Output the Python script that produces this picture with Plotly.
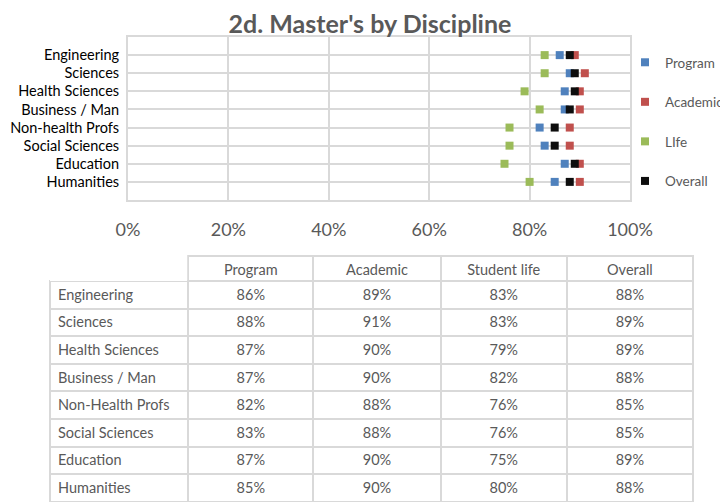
import plotly.graph_objects as go

categories = ["Engineering", "Sciences", "Health Sciences", "Business / Man",
              "Non-health Profs", "Social Sciences", "Education", "Humanities"]
table_labels = ["Engineering", "Sciences", "Health Sciences", "Business / Man",
                "Non-Health Profs", "Social Sciences", "Education", "Humanities"]
program = [0.86, 0.88, 0.87, 0.87, 0.82, 0.83, 0.87, 0.85]
academic = [0.89, 0.91, 0.90, 0.90, 0.88, 0.88, 0.90, 0.90]
life = [0.83, 0.83, 0.79, 0.82, 0.76, 0.76, 0.75, 0.80]
overall = [0.88, 0.89, 0.89, 0.88, 0.85, 0.85, 0.89, 0.88]
series_names = ["Program", "Academic", "LIfe", "Overall"]
table_headers = ["", "Program", "Academic", "Student life", "Overall"]
x_ticks = [0, 0.2, 0.4, 0.6, 0.8, 1.0]
x_ticktext = ["0%", "20%", "40%", "60%", "80%", "100%"]

# page is 728x502; the html body has an 8px margin, so the figure is drawn
# 8px in from the top-left and sized to fill the rest of the window
PAGE_W, PAGE_H = 728, 502
OFF = 8
W, H = PAGE_W - OFF, PAGE_H - OFF


def px(x):
    return (x - OFF) / W


def py(y):
    return 1 - (y - OFF) / H


FONT = "Lato"
GREY_TXT = "#595959"
GRID = "#D9D9D9"

colors = ["#4F81BD", "#C0504D", "#9BBB59", "#0D0D0D"]
series = [program, academic, life, overall]
ypos = list(range(len(categories)))

fig = go.Figure()
for name, vals, col in zip(series_names, series, colors):
    fig.add_trace(go.Scatter(
        x=vals, y=ypos, mode="markers", name=name,
        marker=dict(symbol="square", size=8, color=col, line=dict(width=0)),
        legendgroup=name, xaxis="x", yaxis="y",
    ))

# Table
fmt = lambda arr: [f"{round(v * 100)}%" for v in arr]
fig.add_trace(go.Table(
    domain=dict(x=[px(50), px(693)], y=[0, py(256)]),
    columnwidth=[138, 125, 127, 126, 126],
    header=dict(
        values=table_headers,
        height=25,
        align="center",
        fill=dict(color="white"),
        line=dict(color=["white", GRID, GRID, GRID, GRID], width=[0, 2, 2, 2, 2]),
        font=dict(family=FONT, size=14.5, color=GREY_TXT),
    ),
    cells=dict(
        values=[table_labels, fmt(program), fmt(academic), fmt(life), fmt(overall)],
        height=27.6,
        align=["left", "center", "center", "center", "center"],
        fill=dict(color="white"),
        line=dict(color=GRID, width=2),
        font=dict(family=FONT, size=14.5, color=GREY_TXT),
    ),
))

fig.update_layout(
    width=W, height=H,
    margin=dict(l=0, r=0, t=0, b=0, autoexpand=False),
    paper_bgcolor="white", plot_bgcolor="white",
    font=dict(family=FONT, color=GREY_TXT),
    title=dict(text="<b>2d. Master's by Discipline</b>", x=px(370), xanchor="center",
               y=py(24), yanchor="middle",
               font=dict(family=FONT, size=25, color=GREY_TXT)),
    xaxis=dict(domain=[px(128), px(630)], range=[0, 1], tickvals=x_ticks, ticktext=x_ticktext,
               showgrid=True, gridcolor=GRID, gridwidth=2, zeroline=False,
               showline=True, linecolor=GRID, linewidth=2, mirror=True,
               ticks="outside", ticklen=12, tickcolor="rgba(0,0,0,0)",
               tickfont=dict(family=FONT, size=18, color=GREY_TXT), fixedrange=True,
               automargin=False),
    yaxis=dict(domain=[py(200), py(37)], range=[8, -1],
               tickvals=ypos, ticktext=categories,
               showgrid=True, gridcolor=GRID, gridwidth=2, zeroline=False,
               showline=True, linecolor=GRID, linewidth=2, mirror=True,
               ticks="outside", ticklen=4, tickcolor="rgba(0,0,0,0)",
               tickfont=dict(family=FONT, size=14.5, color="#000000"), fixedrange=True,
               automargin=False),
    legend=dict(x=px(625), y=py(47), xanchor="left", yanchor="top",
                font=dict(family=FONT, size=13.5, color=GREY_TXT),
                tracegroupgap=19, itemwidth=30, bgcolor="rgba(0,0,0,0)"),
    showlegend=True,
)

fig.write_html("out.html")
